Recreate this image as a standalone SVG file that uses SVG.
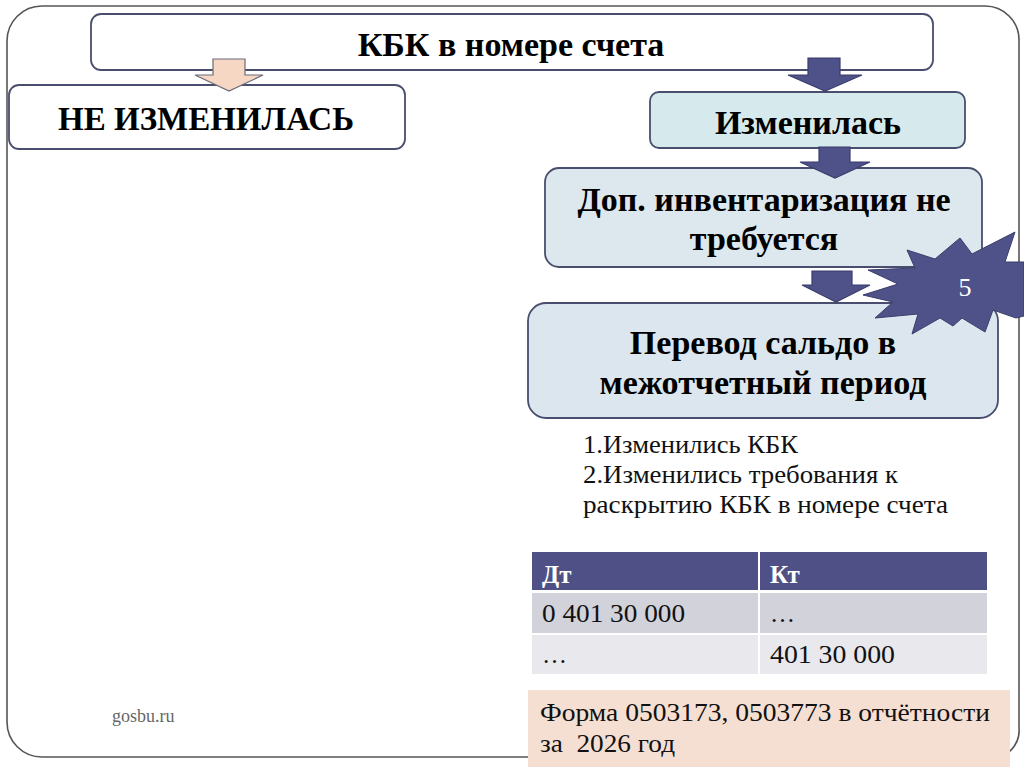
<svg xmlns="http://www.w3.org/2000/svg" width="1024" height="767" viewBox="0 0 1024 767">
<style>
.box{stroke:#4a4e6e;stroke-width:1.8}
.t{font-family:'Liberation Serif','DejaVu Serif','Times New Roman',Times,serif;font-weight:bold;fill:#000;text-anchor:middle;font-size:34px}
.b{font-family:'Liberation Serif','DejaVu Serif','Times New Roman',Times,serif;fill:#111}
.arr{fill:#4f5189;stroke:#3b3d6b;stroke-width:1.2}
</style>
<rect width="1024" height="767" fill="#fff"/>
<path d="M42,6 H985 A34,34 0 0 1 1019,40 V728 A28,28 0 0 1 1000,757 H42 A35,35 0 0 1 7,722 V41 A35,35 0 0 1 42,6 Z" fill="none" stroke="#555" stroke-width="1.6"/>
<g id="top">
<rect class="box" x="91" y="14" width="842" height="56" rx="10" fill="#fff"/>
<text class="t" x="511" y="56">КБК в номере счета</text>
</g>
<g id="not-changed">
<rect class="box" x="9" y="85" width="396" height="64" rx="10" fill="#fff"/>
<text class="t" x="206" y="130" style="font-size:33px">НЕ ИЗМЕНИЛАСЬ</text>
</g>
<g id="changed">
<rect class="box" x="650" y="92" width="315" height="56" rx="9" fill="#d6e9ed"/>
<text class="t" x="808" y="134">Изменилась</text>
</g>
<g id="inventory">
<rect class="box" x="545" y="168" width="437" height="99" rx="14" fill="#dce7ee"/>
<text class="t" x="764" y="211">Доп. инвентаризация не</text>
<text class="t" x="764" y="250">требуется</text>
</g>
<g id="transfer">
<rect class="box" x="528" y="303" width="470" height="115" rx="18" fill="#dbe6ee"/>
<text class="t" x="763" y="354">Перевод сальдо в</text>
<text class="t" x="763" y="394">межотчетный период</text>
</g>
<g id="connectors">
<polygon points="213,59 245,59 245,75 263,75 229,91 195,75 213,75" fill="#f6d7c4" stroke="#6b6b7a" stroke-width="1.2"/>
<polygon class="arr" points="808,58 840,58 840,75 862,75 825,91 788,75 808,75"/>
<polygon class="arr" points="819,147 850,147 850,162 870,162 835,178 800,162 819,162"/>
<polygon class="arr" points="812,271 852,271 852,285 870,285 836,302 802,285 812,285"/>
</g>
<g id="badge">
<polygon points="863,295 898,284 868,270 915,268 907,250 935,259 960,238 972,254 1015,232 1005,262 1024,262 1024,316 1016,318 993,310 985,332 962,318 953,326 940,318 912,334 918,314 875,318 893,302" fill="#4f5189" stroke="#3b3d6b" stroke-width="1"/>
<text x="965" y="296" class="b" font-size="26" text-anchor="middle" style="fill:#fff">5</text>
</g>
<g id="notes">
<text class="b" x="583" y="453" font-size="25" textLength="215" lengthAdjust="spacingAndGlyphs">1.Изменились КБК</text>
<text class="b" x="583" y="483" font-size="25" textLength="315" lengthAdjust="spacingAndGlyphs">2.Изменились требования к</text>
<text class="b" x="583" y="513" font-size="25" textLength="365" lengthAdjust="spacingAndGlyphs">раскрытию КБК в номере счета</text>
</g>
<g id="table">
<rect x="532" y="552" width="226" height="38" fill="#4f5186"/>
<rect x="760" y="552" width="227" height="38" fill="#4f5186"/>
<rect x="532" y="593" width="226" height="40" fill="#d1d2da"/>
<rect x="760" y="593" width="227" height="40" fill="#d1d2da"/>
<rect x="532" y="635" width="226" height="39" fill="#e8e8ed"/>
<rect x="760" y="635" width="227" height="39" fill="#e8e8ed"/>
<text class="b" x="542" y="583" font-size="25" font-weight="bold" style="fill:#fff">Дт</text>
<text class="b" x="770" y="583" font-size="25" font-weight="bold" style="fill:#fff">Кт</text>
<text class="b" x="542" y="622" font-size="25" textLength="143" lengthAdjust="spacingAndGlyphs">0 401 30 000</text>
<text class="b" x="770" y="622" font-size="25">…</text>
<text class="b" x="542" y="663" font-size="25">…</text>
<text class="b" x="770" y="663" font-size="25" textLength="125" lengthAdjust="spacingAndGlyphs">401 30 000</text>
</g>
<g id="form">
<rect x="528" y="690" width="482" height="77" fill="#f5dfd3"/>
<text class="b" x="540" y="721" font-size="26" textLength="450" lengthAdjust="spacingAndGlyphs">Форма 0503173, 0503773 в отчётности</text>
<text class="b" x="540" y="752" font-size="26" xml:space="preserve" textLength="135" lengthAdjust="spacingAndGlyphs">за  2026 год</text>
</g>
<text x="112" y="722" class="b" font-size="18" style="fill:#666">gosbu.ru</text>
</svg>
